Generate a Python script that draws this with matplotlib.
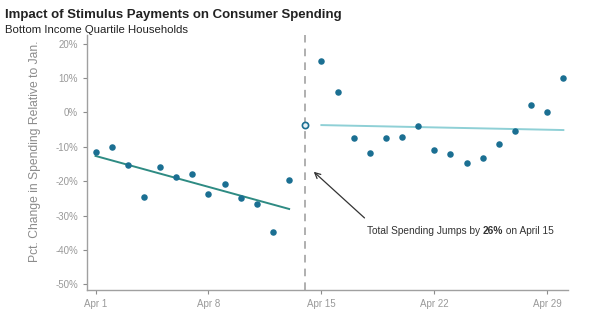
import numpy as np
import matplotlib
matplotlib.use("Agg")
import matplotlib.pyplot as plt

# days of April and spending change (%) relative to January
days_before = [1, 2, 3, 4, 5, 6, 7, 8, 9, 10, 11, 12, 13]
pct_before = [-11.5, -10.0, -15.3, -24.5, -15.9, -18.9, -17.9, -23.6, -20.9, -25.0, -26.7, -34.8, -19.5]
day_gap = 14
pct_gap = -3.5
days_after = [15, 16, 17, 18, 19, 20, 21, 22, 23, 24, 25, 26, 27, 28, 29, 30]
pct_after = [14.9, 6.0, -7.3, -11.9, -7.5, -7.2, -3.9, -10.8, -12.0, -14.7, -13.3, -9.3, -5.3, 2.1, 0.0, 10.0]

xtick_days = [1, 8, 15, 22, 29]
xtick_labels = ["Apr 1", "Apr 8", "Apr 15", "Apr 22", "Apr 29"]
ytick_vals = [20, 10, 0, -10, -20, -30, -40, -50]

dot_col = "#1b6f92"
gray = "#8c8c8c"

plt.rcParams['font.family'] = ['Liberation Sans', 'DejaVu Sans']

fig = plt.figure(figsize=(6.0, 3.31), dpi=100)
ax = fig.add_axes([0.145, 0.124, 0.802, 0.77])

ax.scatter(days_before, pct_before, s=22, color=dot_col, zorder=3, linewidths=0)
ax.scatter(days_after, pct_after, s=22, color=dot_col, zorder=3, linewidths=0)
ax.scatter([day_gap], [pct_gap], s=20, facecolor="#e8f2f6", edgecolor=dot_col,
           linewidths=1.2, zorder=3)

# linear trends on each side of the payment date
fb = np.polyfit(days_before, pct_before, 1)
xb = np.array([days_before[0], days_before[-1]])
ax.plot(xb, np.polyval(fb, xb), color="#2e8b83", lw=1.4, zorder=2)
fa = np.polyfit(days_after, pct_after, 1)
xa = np.array([days_after[0], days_after[-1]])
ax.plot(xa, np.polyval(fa, xa), color="#8fd0d6", lw=1.4, zorder=2)

ax.axvline(day_gap, color="#9a9a9a", lw=1.1, ls=(0, (5, 4)), zorder=1)

ax.annotate("", xy=(14.4, -16.7), xytext=(17.8, -31.2),
            arrowprops=dict(arrowstyle="->", color="#333333", lw=0.9))
ax.text(17.8, -34.4, "Total Spending Jumps by ", fontsize=7.3, color="#333333",
        va="center", ha="left")
ax.annotate("26%", xy=(1, 0.5), xycoords=ax.texts[-1], fontsize=7.3,
            fontweight="bold", color="#333333", va="center", ha="left")
ax.annotate(" on April 15", xy=(1, 0.5), xycoords=ax.texts[-1], fontsize=7.3,
            color="#333333", va="center", ha="left")

ax.set_xlim(0.47, 30.3)
ax.set_ylim(-51.6, 22.5)
ax.set_xticks(xtick_days)
ax.set_xticklabels(xtick_labels)
ax.set_yticks(ytick_vals)
ax.set_yticklabels([f"{v}%" for v in ytick_vals])
ax.tick_params(colors=gray, labelsize=7, length=3, width=0.8, labelcolor="#999999")

for s in ["top", "right"]:
    ax.spines[s].set_visible(False)
for s in ["left", "bottom"]:
    ax.spines[s].set_color("#a0a0a0")
    ax.spines[s].set_linewidth(1.0)

ax.set_ylabel("Pct. Change in Spending Relative to Jan.", fontsize=8.7, color=gray)
ax.yaxis.set_label_coords(-0.095, 0.543)

fig.text(0.008, 0.955, "Impact of Stimulus Payments on Consumer Spending",
         fontsize=9.5, fontweight="bold", color="#222222", va="center")
fig.text(0.008, 0.908, "Bottom Income Quartile Households", fontsize=8.2,
         color="#222222", va="center")

fig.savefig("out.png", dpi=100)
